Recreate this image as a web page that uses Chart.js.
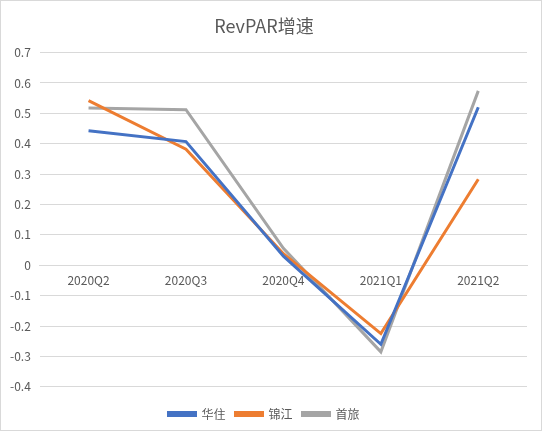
<!DOCTYPE html>
<html lang="zh">
<head>
<meta charset="UTF-8">
<title>RevPAR增速</title>
<script src="https://cdn.jsdelivr.net/npm/chart.js@4"></script>
<style>
    html, body { margin: 0; padding: 0; background: #fff; }
    #wrap { position: absolute; left: 0; top: 0; width: 540px; height: 429px; border: 1px solid #d9d9d9; }
</style>
</head>
<body>
<div id="wrap"><canvas id="chart" width="540" height="429"></canvas></div>
<script>
    // data
    var quarters = ['2020Q2', '2020Q3', '2020Q4', '2021Q1', '2021Q2'];
    var huazhu = [0.443, 0.407, 0.03, -0.26, 0.52];
    var jinjiang = [0.542, 0.382, 0.038, -0.225, 0.283];
    var shoulv = [0.518, 0.512, 0.056, -0.285, 0.574];

    var font = '"Noto Sans CJK SC", "Noto Sans", sans-serif';

    function series(label, data, color) {
        return {
            label: label,
            data: data,
            borderColor: color,
            backgroundColor: color,
            borderWidth: 3,
            pointRadius: 0,
            tension: 0
        };
    }

    new Chart(document.getElementById('chart'), {
        type: 'line',
        data: {
            labels: quarters,
            datasets: [
                series('华住', huazhu, '#4472c4'),
                series('锦江', jinjiang, '#ed7d31'),
                series('首旅', shoulv, '#a5a5a5')
            ]
        },
        options: {
            responsive: false,
            animation: false,
            layout: { padding: { left: 0, right: 14, top: 4, bottom: 0 } },
            plugins: {
                title: {
                    display: true,
                    text: 'RevPAR增速',
                    color: '#595959',
                    font: { family: font, size: 18, weight: 'normal' },
                    padding: { top: 10, bottom: 16 }
                },
                legend: {
                    position: 'bottom',
                    // empty legend title only to keep space above the items
                    title: { display: true, text: ' ', font: { size: 1 }, padding: { top: 5, bottom: 5 } },
                    labels: {
                        color: '#595959',
                        font: { family: font, size: 12 },
                        boxWidth: 27,
                        boxHeight: 3,
                        padding: 10
                    }
                },
                tooltip: { enabled: false }
            },
            scales: {
                x: {
                    position: { y: 0 },
                    offset: true,
                    grid: { display: false },
                    border: { color: '#d9d9d9' },
                    ticks: { color: '#595959', font: { family: font, size: 12 }, padding: 0 }
                },
                y: {
                    min: -0.4,
                    max: 0.7,
                    grid: { color: '#d9d9d9', drawTicks: false },
                    border: { display: false },
                    ticks: {
                        stepSize: 0.1,
                        color: '#595959',
                        font: { family: font, size: 12 },
                        padding: 9,
                        callback: function (v) { return String(Math.round(v * 10) / 10); }
                    }
                }
            }
        }
    });
</script>
</body>
</html>
